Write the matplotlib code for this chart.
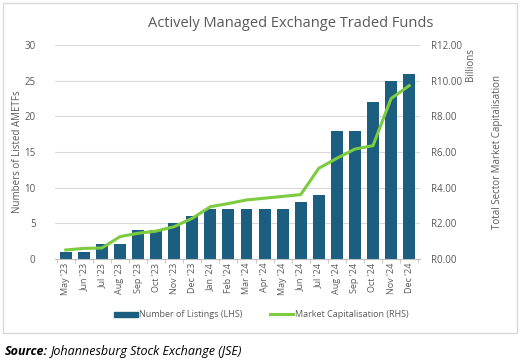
import matplotlib.pyplot as plt
import matplotlib.patches as mpatches
from matplotlib.lines import Line2D
import numpy as np

plt.rcParams['font.family'] = ['Open Sans', 'DejaVu Sans']

months = ["May '23", "Jun '23", "Jul '23", "Aug '23", "Sep '23", "Oct '23",
          "Nov '23", "Dec '23", "Jan '24", "Feb '24", "Mar '24", "Apr '24",
          "May '24", "Jun '24", "Jul '24", "Aug '24", "Sep '24", "Oct '24",
          "Nov '24", "Dec '24"]
listings = [1, 1, 2, 2, 4, 4, 5, 6, 7, 7, 7, 7, 7, 8, 9, 18, 18, 22, 25, 26]
market_cap = [0.49, 0.58, 0.6, 1.24, 1.43, 1.55, 1.8, 2.27, 2.92, 3.1, 3.3,
              3.4, 3.5, 3.6, 5.08, 5.64, 6.16, 6.35, 9.0, 9.72]

bar_col = '#1B5E80'
line_col = '#7DCB3F'
grey = '#595959'

fig = plt.figure(figsize=(5.23, 3.61), dpi=100)
ax = fig.add_axes([0.105, 0.2834, 0.698, 0.5916])
x = np.arange(len(months))
ax.bar(x, listings, width=0.66, color=bar_col, zorder=2)
ax.set_ylim(0, 30)
ax.set_yticks(range(0, 31, 5))
ax.set_xlim(-0.6, len(months) - 0.4)
ax.set_xticks(x)
ax.set_xticklabels(months, rotation=90, fontsize=6.5, color=grey)
ax.set_xticks(np.arange(-0.5, len(months), 1), minor=True)
ax.tick_params(axis='x', which='major', length=0, pad=3)
ax.tick_params(axis='x', which='minor', length=3, color='#bfbfbf')
ax.tick_params(axis='y', length=0, labelsize=7, labelcolor=grey, pad=14)
ax.grid(axis='y', color='#d9d9d9', linewidth=0.8, zorder=0)
ax.set_axisbelow(True)
for s in ['top', 'right', 'left']:
    ax.spines[s].set_visible(False)
ax.spines['bottom'].set_color('#bfbfbf')
ax.set_ylabel('Numbers of Listed AMETFs', fontsize=7, color=grey)
ax.yaxis.set_label_coords(-0.088, 0.5)

ax2 = ax.twinx()
ax2.plot(x, market_cap, color=line_col, linewidth=2.2, zorder=3)
ax2.set_ylim(0, 12)
ax2.set_yticks(range(0, 13, 2))
ax2.set_yticklabels(['R%.2f' % v for v in range(0, 13, 2)])
ax2.tick_params(axis='y', length=0, labelsize=7, labelcolor=grey, pad=8)
for s in ax2.spines.values():
    s.set_visible(False)
fig.text(0.899, 0.82, 'Billions', rotation=90, fontsize=7, color=grey,
         ha='center', va='center')
fig.text(0.951, 0.58, 'Total Sector Market Capitalisation', rotation=90,
         fontsize=7, color=grey, ha='center', va='center')

fig.text(0.555, 0.935, 'Actively Managed Exchange Traded Funds', fontsize=10.5,
         color=grey, ha='center', va='center')

handles = [mpatches.Patch(color=bar_col, label='Number of Listings (LHS)'),
           Line2D([0], [0], color=line_col, linewidth=2.2,
                  label='Market Capitalisation (RHS)')]
fig.legend(handles=handles, loc='center', bbox_to_anchor=(0.5, 0.128), ncol=2,
           frameon=False, fontsize=6.5, labelcolor=grey, handlelength=2.6,
           handleheight=0.5, columnspacing=3, handletextpad=0.2)

border = mpatches.Rectangle((0.006, 0.078), 0.983, 0.913, transform=fig.transFigure,
                            fill=False, edgecolor='#d9d9d9', linewidth=1)
fig.patches.append(border)

fig.text(0.01, 0.026, 'Source:', fontsize=9, fontweight='bold', style='italic',
         ha='left', va='center')
fig.text(0.098, 0.026, 'Johannesburg Stock Exchange (JSE)', fontsize=9,
         style='italic', ha='left', va='center')

fig.savefig('out.png', dpi=100)
